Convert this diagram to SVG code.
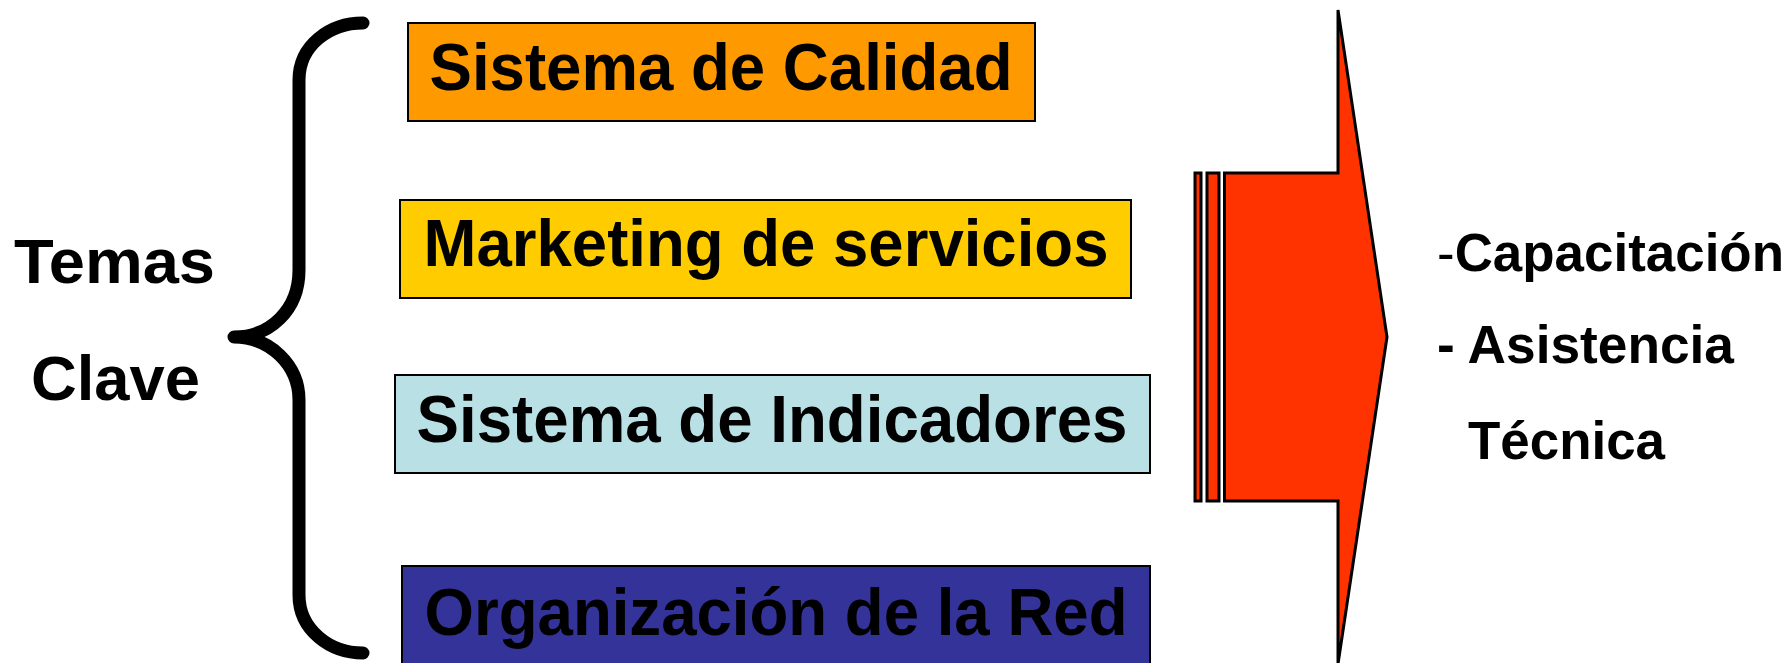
<svg xmlns="http://www.w3.org/2000/svg" width="1791" height="663" viewBox="0 0 1791 663">
<style>
.box{stroke:#000;stroke-width:2}
.bt{font-family:"Liberation Sans",Arial,sans-serif;font-weight:bold;font-size:67px;fill:#000;text-anchor:middle}
.lt{font-family:"Liberation Sans",Arial,sans-serif;font-weight:bold;fill:#000}
.arr{fill:#FF3300;stroke:#000;stroke-width:3}
</style>
<rect width="1791" height="663" fill="#fff"/>
<g id="label-temas">
<text class="lt" x="14" y="283" font-size="63" textLength="201" lengthAdjust="spacingAndGlyphs">Temas</text>
<text class="lt" x="31" y="400" font-size="63" textLength="169" lengthAdjust="spacingAndGlyphs">Clave</text>
</g>
<g id="brace">
<path d="M363,23 C330,23 299,45 299,80 L299,270 C299,310 270,337 234,337 C270,337 299,365 299,400 L299,595 C299,630 330,653 363,653" fill="none" stroke="#000" stroke-width="13" stroke-linecap="round" stroke-linejoin="round"/>
</g>
<g id="node-calidad">
<rect class="box" x="408" y="23" width="627" height="98" fill="#FF9900"/>
<text class="bt" x="721" y="90" textLength="583" lengthAdjust="spacingAndGlyphs">Sistema de Calidad</text>
</g>
<g id="node-marketing">
<rect class="box" x="400" y="200" width="731" height="98" fill="#FFCC00"/>
<text class="bt" x="766" y="266" textLength="685" lengthAdjust="spacingAndGlyphs">Marketing de servicios</text>
</g>
<g id="node-indicadores">
<rect class="box" x="395" y="375" width="755" height="98" fill="#B9E1E5"/>
<text class="bt" x="772" y="442" textLength="711" lengthAdjust="spacingAndGlyphs">Sistema de Indicadores</text>
</g>
<g id="node-red">
<rect class="box" x="402" y="566" width="748" height="100" fill="#333399"/>
<text class="bt" x="776" y="635" textLength="703" lengthAdjust="spacingAndGlyphs">Organización de la Red</text>
</g>
<g id="connectors">
<rect class="arr" x="1195" y="173" width="6" height="328"/>
<rect class="arr" x="1207" y="173" width="12" height="328"/>
<polygon class="arr" points="1224.5,173 1338,173 1338,10 1387,337 1338,664 1338,501 1224.5,501"/>
</g>
<g id="label-result">
<text class="lt" x="1437" y="271" font-size="53" textLength="347" lengthAdjust="spacingAndGlyphs"><tspan font-weight="normal">-</tspan>Capacitación</text>
<text class="lt" x="1437" y="363" font-size="53" textLength="297" lengthAdjust="spacingAndGlyphs">- Asistencia</text>
<text class="lt" x="1468" y="459" font-size="53" textLength="197" lengthAdjust="spacingAndGlyphs">Técnica</text>
</g>
</svg>
